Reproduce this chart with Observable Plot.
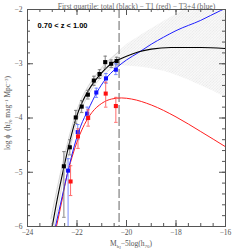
<!DOCTYPE html>
<html><head><meta charset="utf-8">
<script src="https://cdn.jsdelivr.net/npm/d3@7"></script>
<script src="https://cdn.jsdelivr.net/npm/@observablehq/plot@0.6"></script>
<style>body{margin:0;background:#fff}</style>
</head><body><div id="chart"></div>
<script>
// ---- data ----
const title = "First quartile: total (black) − T1 (red) − T3+4 (blue)";
const zLabel = "0.70 < z < 1.00";
const xTicks = [-24, -22, -20, -18, -16];
const yTicks = [-6, -5, -4, -3, -2];
const magLimit = -20.3;

// total (black) points
const blackM   = [-22.53, -22.29, -22.05, -21.81, -21.56, -21.32, -21.09, -20.86, -20.62, -20.40];
const blackPhi = [-4.89, -4.54, -3.99, -3.79, -3.57, -3.31, -3.19, -2.97, -3.00, -2.95];
const blackLo  = [-5.83, -4.68, -4.10, -3.90, -3.65, -3.40, -3.27, -3.08, -3.07, -3.02];
const blackHi  = [-4.62, -4.40, -3.86, -3.68, -3.49, -3.23, -3.11, -2.86, -2.93, -2.88];
// T3+4 (blue) points
const blueM   = [-22.36, -21.97, -21.59, -21.22, -20.83, -20.43];
const bluePhi = [-4.97, -4.26, -3.92, -3.53, -3.27, -3.11];
const blueLo  = [-6.00, -4.40, -4.02, -3.62, -3.36, -3.20];
const blueHi  = [-4.75, -4.12, -3.80, -3.45, -3.18, -3.00];
// T1 (red) points
const redM   = [-22.26, -21.96, -21.55, -20.84, -20.43];
const redPhi = [-5.17, -4.34, -4.00, -3.55, -3.78];
const redLo  = [-5.43, -4.56, -4.15, -3.80, -4.08];
const redHi  = [-4.88, -4.20, -3.85, -3.34, -3.62];

// fitted curves
const blackCurveM   = [-23.0, -22.8, -22.55, -22.3, -22.05, -21.8, -21.55, -21.3, -21.05, -20.8, -20.55, -20.3, -20.0, -19.5, -19.0, -18.2, -17.0, -16.0];
const blackCurvePhi = [-6.0, -5.5, -4.95, -4.45, -4.02, -3.72, -3.5, -3.33, -3.19, -3.07, -2.98, -2.92, -2.86, -2.78, -2.73, -2.70, -2.70, -2.72];
const blueCurveM   = [-22.87, -22.6, -22.36, -22.1, -21.85, -21.55, -21.2, -20.84, -20.44, -20.0, -19.5, -19.0, -18.5, -18.0, -17.0, -16.2, -16.0];
const blueCurvePhi = [-6.0, -5.45, -4.97, -4.5, -4.15, -3.85, -3.53, -3.28, -3.09, -2.93, -2.79, -2.64, -2.51, -2.39, -2.2, -2.02, -1.98];
const redCurveM   = [-22.83, -22.62, -22.46, -22.2, -21.95, -21.7, -21.4, -21.0, -20.6, -20.2, -19.8, -19.0, -18.0, -17.0, -16.0];
const redCurvePhi = [-6.0, -5.55, -5.17, -4.72, -4.38, -4.12, -3.9, -3.73, -3.65, -3.63, -3.65, -3.76, -3.98, -4.25, -4.53];

// uncertainty band of the total fit
const bandM  = [-23.05, -22.8, -22.55, -22.3, -22.05, -21.8, -21.55, -21.3, -21.05, -20.8, -20.55, -20.3, -20.0, -19.5, -19.0, -18.5, -18.0, -17.5, -17.0, -16.5, -16.0];
const bandHi = [-5.85, -5.3, -4.78, -4.32, -3.92, -3.63, -3.42, -3.25, -3.1, -2.97, -2.87, -2.77, -2.65, -2.5, -2.36, -2.22, -2.09, -1.97, -1.86, -1.75, -1.65];
const bandLo = [-6.3, -5.72, -5.12, -4.6, -4.13, -3.82, -3.58, -3.4, -3.27, -3.15, -3.07, -3.03, -3.04, -3.06, -3.09, -3.14, -3.21, -3.3, -3.4, -3.5, -3.62];

// ---- build tables ----
const pts = (M, p, lo, hi) => M.map((m, i) => ({M: m, phi: p[i], lo: lo[i], hi: hi[i]}));
const curve = (M, p) => M.map((m, i) => ({M: m, phi: p[i]}));
const black = pts(blackM, blackPhi, blackLo, blackHi);
const blue = pts(blueM, bluePhi, blueLo, blueHi);
const red = pts(redM, redPhi, redLo, redHi);
const band = bandM.map((m, i) => ({M: m, lo: bandLo[i], hi: bandHi[i]}));
const bandLeft = band.filter(d => d.M <= magLimit);

const xMinor = d3.range(-24, -15.99, 0.5);
const yMinor = d3.range(-6, -1.99, 0.2);
const FW = 198, FH = 217;
const axisCol = "#555";
const capW = 0.07;

function errMarks(data, barColor, dotColor) {
  return [
    Plot.ruleX(data, {x: "M", y1: "lo", y2: "hi", stroke: barColor, strokeWidth: 0.9, clip: true}),
    Plot.link(data, {x1: d => d.M - capW, x2: d => d.M + capW, y1: "hi", y2: "hi", stroke: barColor, strokeWidth: 0.9, clip: true}),
    Plot.link(data.filter(d => d.lo > -5.99), {x1: d => d.M - capW, x2: d => d.M + capW, y1: "lo", y2: "lo", stroke: barColor, strokeWidth: 0.9}),
    Plot.dot(data, {x: "M", y: "phi", symbol: "square", r: 2.3, fill: dotColor, stroke: "none"})
  ];
}

const chart = Plot.plot({
  width: 249, height: 249,
  marginTop: 9, marginLeft: 27, marginRight: 24, marginBottom: 23,
  x: {domain: [-24, -16]},
  y: {domain: [-6, -2]},
  style: {fontFamily: "Liberation Serif", fontSize: "7.5px", color: axisCol, background: "#fff"},
  marks: [
    Plot.areaY(band, {x: "M", y1: "lo", y2: "hi", fill: "#e0e0e0", curve: "monotone-x", clip: true}),
    Plot.line(bandLeft, {x: "M", y: "hi", stroke: "#c4c4c4", strokeWidth: 0.6, curve: "monotone-x", clip: true}),
    Plot.line(bandLeft, {x: "M", y: "lo", stroke: "#c4c4c4", strokeWidth: 0.6, curve: "monotone-x", clip: true}),
    Plot.ruleX([magLimit], {stroke: "#666", strokeWidth: 1, strokeDasharray: "9,3"}),
    Plot.line(curve(redCurveM, redCurvePhi), {x: "M", y: "phi", stroke: "#ff2020", strokeWidth: 1, curve: "monotone-x", clip: true}),
    Plot.line(curve(blueCurveM, blueCurvePhi), {x: "M", y: "phi", stroke: "#1f1fff", strokeWidth: 1, curve: "monotone-x", clip: true}),
    Plot.line(curve(blackCurveM, blackCurvePhi), {x: "M", y: "phi", stroke: "#000", strokeWidth: 1.1, curve: "monotone-x", clip: true}),
    ...errMarks(black, "#777", "#000"),
    ...errMarks(blue, "#6a7dff", "#1010ff"),
    ...errMarks(red, "#ff5a5a", "#ff1010"),
    // inward ticks on all four sides
    Plot.ruleX(xTicks, {x: d => d, insetTop: FH - 6, stroke: axisCol}),
    Plot.ruleX(xTicks, {x: d => d, insetBottom: FH - 6, stroke: axisCol}),
    Plot.ruleX(xMinor, {x: d => d, insetTop: FH - 3, stroke: axisCol}),
    Plot.ruleX(xMinor, {x: d => d, insetBottom: FH - 3, stroke: axisCol}),
    Plot.ruleY(yTicks, {y: d => d, insetRight: FW - 6, stroke: axisCol}),
    Plot.ruleY(yTicks, {y: d => d, insetLeft: FW - 6, stroke: axisCol}),
    Plot.ruleY(yMinor, {y: d => d, insetRight: FW - 3, stroke: axisCol}),
    Plot.ruleY(yMinor, {y: d => d, insetLeft: FW - 3, stroke: axisCol}),
    Plot.axisX({ticks: xTicks, tickSize: 0, tickPadding: 3, label: null, tickFormat: d => "−" + Math.abs(d)}),
    Plot.axisY({ticks: yTicks, tickSize: 0, tickPadding: 5, label: null, tickFormat: d => "−" + Math.abs(d)}),
    Plot.frame({stroke: axisCol, strokeWidth: 1}),
    Plot.text([zLabel], {frameAnchor: "top-left", dx: 10, dy: 13, text: d => d, fontFamily: "Liberation Sans", fontWeight: "bold", fontSize: 7.5, fill: "#000", textAnchor: "start"}),
    Plot.text([title], {frameAnchor: "top", dx: 10, dy: -5.5, text: d => d, fontSize: 7.6, fill: "#666"})
  ]
});

const svg = d3.select(chart);
// hatch pattern for the uncertainty band
const defs = svg.insert("defs", ":first-child");
const pat = defs.append("pattern").attr("id", "hatch").attr("patternUnits", "userSpaceOnUse")
  .attr("width", 2).attr("height", 2).attr("patternTransform", "rotate(45)");
pat.append("rect").attr("width", 2).attr("height", 2).attr("fill", "#fafafa");
pat.append("line").attr("x1", 0).attr("y1", 0).attr("x2", 0).attr("y2", 2).attr("stroke", "#bdbdbd").attr("stroke-width", 0.6).attr("stroke-dasharray", "1,0.6");
svg.select('g[aria-label="area"] path').attr("fill", "url(#hatch)");

// axis labels with sub/superscripts
const xl = svg.append("text").attr("x", 131).attr("y", 246).attr("text-anchor", "middle")
  .attr("font-family", "Liberation Serif").attr("font-size", 7.5).attr("fill", axisCol);
xl.append("tspan").text("M");
xl.append("tspan").attr("font-size", 5).attr("dy", 1.5).text("b");
xl.append("tspan").attr("font-size", 4).attr("dy", 1).text("J");
xl.append("tspan").attr("dy", -2.5).text("−5log(h");
xl.append("tspan").attr("font-size", 5).attr("dy", 1.5).text("70");
xl.append("tspan").attr("dy", -1.5).text(")");

const yl = svg.append("text").attr("transform", "translate(10,113) rotate(-90)").attr("text-anchor", "middle")
  .attr("font-family", "Liberation Serif").attr("font-size", 7.5).attr("fill", axisCol);
yl.append("tspan").text("log ϕ  (h");
yl.append("tspan").attr("font-size", 5).attr("dy", -2.5).text("3");
yl.append("tspan").attr("font-size", 5).attr("dx", -2.5).attr("dy", 4.5).text("70");
yl.append("tspan").attr("dy", -2).text(" mag");
yl.append("tspan").attr("font-size", 5).attr("dy", -2.5).text("−1");
yl.append("tspan").attr("dy", 2.5).text(" Mpc");
yl.append("tspan").attr("font-size", 5).attr("dy", -2.5).text("−3");
yl.append("tspan").attr("dy", 2.5).text(")");

document.getElementById("chart").appendChild(chart);
</script>
</body></html>
